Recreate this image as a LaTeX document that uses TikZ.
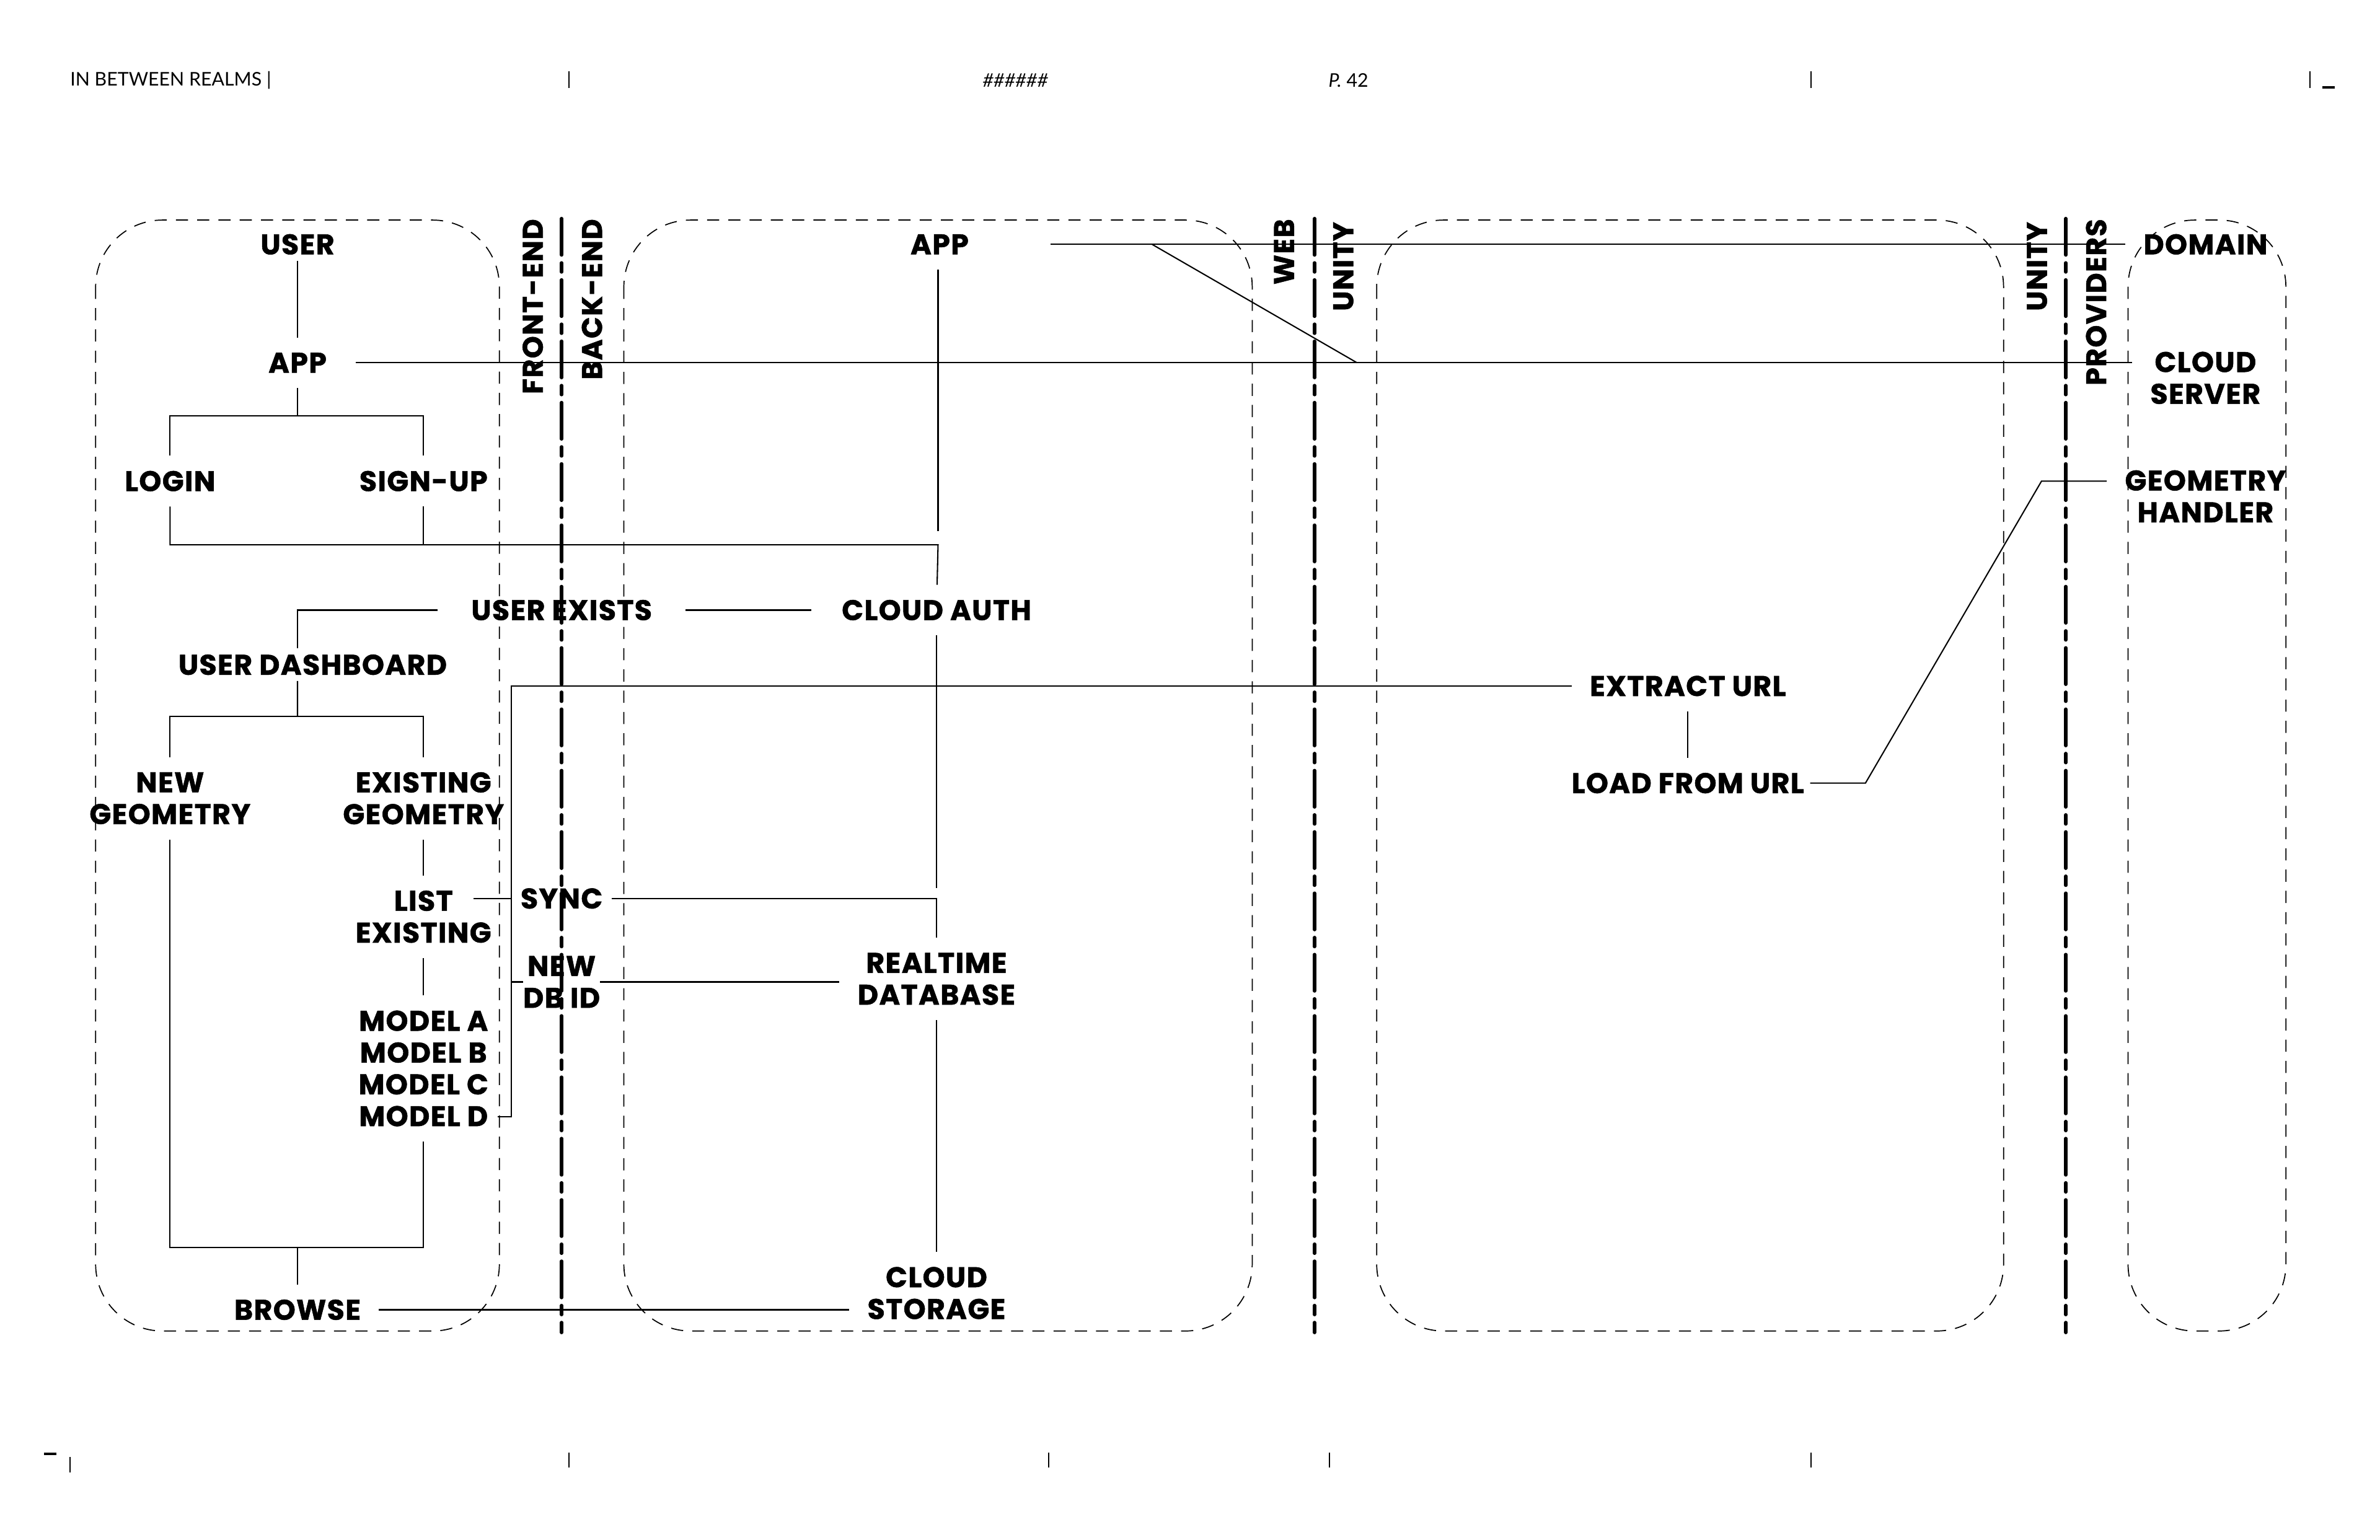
\documentclass[tikz,border=0pt]{standalone}
\usepackage{fontspec}
\setmainfont{Poppins}[BoldFeatures={FakeBold=1.2,LetterSpace=3}]
\newfontfamily\headfont{Lato}

\begin{document}
\begin{tikzpicture}[x=0.025cm,y=-0.025cm,
    lbl/.style={font=\bfseries\fontsize{13.3}{14.9}\selectfont,align=center,inner sep=0pt,outer xsep=0.3cm,outer ysep=0.25cm},
    vlbl/.style={font=\bfseries\fontsize{13.3}{14.9}\selectfont,rotate=90,anchor=east,inner sep=0pt},
    head/.style={font=\headfont\fontsize{8.8}{10}\selectfont,inner sep=0pt},
    link/.style={line width=0.6pt},
    panel/.style={line width=0.5pt,dash pattern=on 0.2cm off 0.15cm,rounded corners=1.1cm},
    divider/.style={line width=1.6pt,line cap=round,dash pattern=on 0.6cm off 0.13cm on 0.15cm off 0.13cm},
    tick/.style={line width=0.6pt}]
    \useasboundingbox (0,0) rectangle (1568,1014.7);

    % page header and footer
    \node[head,anchor=west] (title) at (46,53) {IN BETWEEN REALMS |};
    \node[head] (hash) at (669,53) {\itshape\#\#\#\#\#\#};
    \node[head,anchor=west] (page) at (875,53) {\textit{P.} 42};
    \foreach \x in {375,1193,1522}
      \draw[tick] (\x,47) -- (\x,58);
    \draw[line width=1.1pt] (1530,57.5) -- (1538,57.5);
    \foreach \x in {375,691,876,1193}
      \draw[tick] (\x,957) -- (\x,967);
    \draw[tick] (46,960) -- (46,970);
    \draw[line width=1.1pt] (29,958) -- (37,958);

    % realms
    \draw[panel] (63,145) rectangle (329,877);
    \draw[panel] (411,145) rectangle (825,877);
    \draw[panel] (907,145) rectangle (1320,877);
    \draw[panel] (1402,145) rectangle (1506,877);
    \foreach \x in {370,866,1361}
      \draw[divider] (\x,144) -- (\x,878);
    \node[vlbl] (front) at (351,144) {FRONT-END};
    \node[vlbl] (back) at (390,144) {BACK-END};
    \node[vlbl] (web) at (846,144) {WEB};
    \node[vlbl] (unitya) at (885,146) {UNITY};
    \node[vlbl] (unityb) at (1342,146) {UNITY};
    \node[vlbl] (prov) at (1381,144) {PROVIDERS};

    % front-end
    \node[lbl,outer ysep=0.1cm] (user) at (196,161) {USER};
    \node[lbl,outer xsep=0.48cm] (appa) at (196,239) {APP};
    \node[lbl] (login) at (112,317) {LOGIN};
    \node[lbl] (signup) at (279,317) {SIGN-UP};
    \node[lbl,outer xsep=0.55cm] (exists) at (370,402) {USER EXISTS};
    \node[lbl,outer ysep=0.1cm] (dashbd) at (206,438) {USER DASHBOARD};
    \node[lbl] (newgeo) at (112,526) {NEW\\GEOMETRY};
    \node[lbl] (oldgeo) at (279,526) {EXISTING\\GEOMETRY};
    \node[lbl] (list) at (279,604) {LIST\\EXISTING};
    \node[lbl,outer xsep=0.15cm] (models) at (279,704) {MODEL A\\MODEL B\\MODEL C\\MODEL D};
    \node[lbl] (browse) at (196,863) {BROWSE};
    \node[lbl,outer xsep=0.15cm] (sync) at (370,592) {SYNC};
    \node[lbl,outer xsep=0pt] (newid) at (370,647) {NEW\\DB ID};

    % back-end
    \node[lbl,outer xsep=1.35cm] (appb) at (619,161) {APP};
    \node[lbl,outer xsep=0.5cm] (auth) at (617,402) {CLOUD AUTH};
    \node[lbl] (rtdb) at (617,645) {REALTIME\\DATABASE};
    \node[lbl] (storage) at (617,852) {CLOUD\\STORAGE};

    % unity
    \node[lbl] (extract) at (1112,452) {EXTRACT URL};
    \node[lbl,outer xsep=0.1cm] (loadurl) at (1112,516) {LOAD FROM URL};

    % providers
    \node[lbl] (domain) at (1453,161) {DOMAIN};
    \node[lbl] (server) at (1453,249) {CLOUD\\SERVER};
    \node[lbl] (handler) at (1453,327) {GEOMETRY\\HANDLER};

    \coordinate (fork1) at (196,274);
    \coordinate (join) at (618,359);
    \coordinate (appbend) at (618,350);
    \coordinate (kinka) at (759,161);
    \coordinate (kinkb) at (894,239);
    \coordinate (fork3) at (196,472);
    \coordinate (fork4) at (196,822);
    \coordinate (authend) at (617,585);
    \coordinate (brk) at (337,736);
    \coordinate (bendl) at (1229,516);
    \coordinate (bendh) at (1345,317);

    \draw[link] (user) -- (appa);
    \draw[link] (appa) -- (fork1);
    \draw[link] (login) |- (fork1) -| (signup);
    \draw[link] (login) |- (join) -- (auth);
    \draw[link] (signup) -- (signup |- join);
    \draw[link] (appb.south -| appbend) -- (appbend);
    \draw[link] (appa) -- (appa -| server.west);
    \draw[link] (appb) -- (appb -| domain.west);
    \draw[link] (kinka) -- (kinkb);
    \draw[link] (exists) -- (auth);
    \draw[link] (exists) -| ([xshift=-0.25cm]dashbd.north);
    \draw[link] ([xshift=-0.25cm]dashbd.south) -- (fork3);
    \draw[link] (newgeo) |- (fork3) -| (oldgeo);
    \draw[link] (newgeo) |- (fork4) -| (models);
    \draw[link] (fork4) -- (browse);
    \draw[link] (oldgeo) -- (list);
    \draw[link] (list) -- (models);
    \draw[link] (sync.west) -- ++(-25,0);
    \draw[link] (brk -| models.east) -- (brk) |- (extract);
    \draw[link] (brk |- newid) -- (newid);
    \draw[link] (sync) -| (rtdb);
    \draw[link] (auth) -- (authend);
    \draw[link] (newid) -- (newid -| rtdb.west);
    \draw[link] (rtdb) -- (storage);
    \draw[link] (browse) -- (browse -| storage.west);
    \draw[link] (extract) -- (loadurl);
    \draw[link] (loadurl) -- (bendl) -- (bendh) -- (handler.west |- bendh);
\end{tikzpicture}
\end{document}
